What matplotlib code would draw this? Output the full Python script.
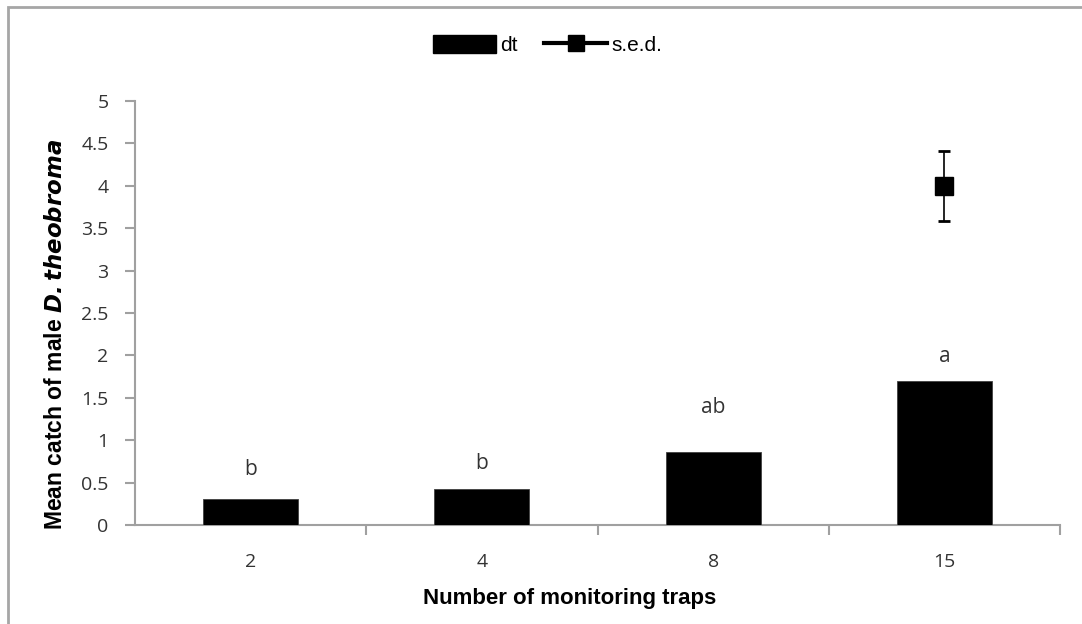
import matplotlib
matplotlib.use("Agg")
import matplotlib.pyplot as plt
from matplotlib.patches import Rectangle, Patch
from matplotlib.lines import Line2D

# Data
traps = ["2", "4", "8", "15"]
mean_catch = [0.31, 0.43, 0.86, 1.70]
letters = ["b", "b", "ab", "a"]
letter_y = [0.65, 0.72, 1.39, 1.99]
sed_value = 4.0
sed_half = 0.41
y_ticks = [0, 0.5, 1, 1.5, 2, 2.5, 3, 3.5, 4, 4.5, 5]
y_tick_labels = ["0", "0.5", "1", "1.5", "2", "2.5", "3", "3.5", "4", "4.5", "5"]

W, H = 1082, 624
fig = plt.figure(figsize=(W / 100, H / 100), dpi=100)
fig.patch.set_facecolor("white")

# Chart-area border (runs off the right and bottom edges)
fig.patches.append(Rectangle((8 / W, -0.05), 1.2, 1 - 7 / H + 0.05,
                             transform=fig.transFigure, fill=False,
                             edgecolor="#a6a6a6", linewidth=2))

ax = fig.add_axes([135 / W, 1 - 525 / H, (1060 - 135) / W, (525 - 101) / H])
x = list(range(len(traps)))
ax.bar(x, mean_catch, width=0.41, color="black", edgecolor="#404040", linewidth=0.6, zorder=3)

tick_font = {"family": "Open Sans", "size": 14, "color": "#333333"}
for xi, lab, ly in zip(x, letters, letter_y):
    ax.text(xi, ly, lab, ha="center", va="center", **{**tick_font, "size": 15})

# s.e.d. marker above the last bar
ax.errorbar([x[-1]], [sed_value], yerr=[sed_half], fmt="s", color="black",
            markersize=12.5, ecolor="black", elinewidth=1.2, capsize=4.5, capthick=2, zorder=4)

ax.set_xlim(-0.5, len(traps) - 0.5)
ax.set_ylim(0, 5)
ax.set_yticks(y_ticks)
ax.set_yticklabels(y_tick_labels, fontdict=tick_font)
ax.set_xticks(x)
ax.set_xticklabels(traps, fontdict=tick_font)
ax.set_xticks([xi + 0.5 for xi in x], minor=True)

for side in ["top", "right"]:
    ax.spines[side].set_visible(False)
for side in ["left", "bottom"]:
    ax.spines[side].set_color("#a0a0a0")
    ax.spines[side].set_linewidth(1.5)

ax.tick_params(axis="y", direction="out", length=7, width=1.5, color="#a0a0a0", pad=12)
ax.tick_params(axis="x", which="major", length=0, pad=20)
ax.tick_params(axis="x", which="minor", direction="out", length=7, width=1.5, color="#a0a0a0")

ax.set_ylabel(r"Mean catch of male $\mathbfit{D. theobroma}$", fontsize=16.5, fontweight="bold",
              family="Liberation Sans")
ax.yaxis.set_label_coords(-0.0735, 0.45)
ax.set_xlabel("Number of monitoring traps", fontsize=16, fontweight="bold",
              family="Liberation Sans")
ax.xaxis.set_label_coords(0.47, -0.148)

handles = [Patch(facecolor="black", edgecolor="black"),
           Line2D([0], [0], color="black", linewidth=3, marker="s", markersize=12)]
fig.legend(handles, ["dt", "s.e.d."], loc="center", bbox_to_anchor=(0.506, 1 - 45 / H),
           ncol=2, frameon=False, handlelength=3.0, handleheight=1.0, columnspacing=1.3,
           handletextpad=0.2, prop={"family": "Liberation Sans", "size": 15})

fig.savefig("out.png", dpi=100, facecolor="white")
